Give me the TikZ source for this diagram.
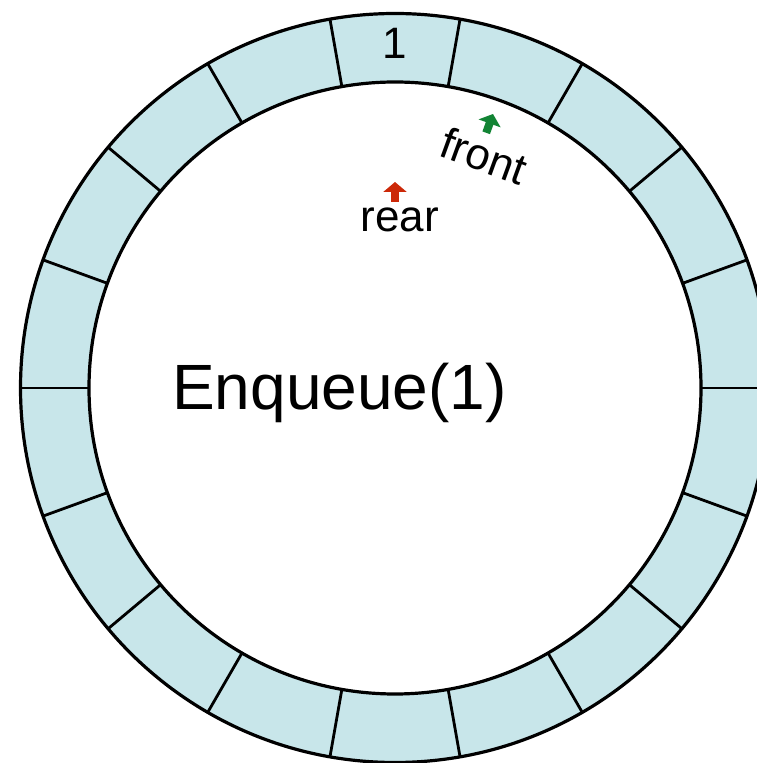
\documentclass[tikz,border=0pt]{standalone}
\usepackage{fontspec}
\setmainfont{Liberation Sans}
\usetikzlibrary{arrows.meta,calc}
\definecolor{slotfill}{RGB}{200,230,234}
\definecolor{rearred}{RGB}{204,40,8}
\definecolor{frontgreen}{RGB}{18,132,52}
\tikzset{
  ringline/.style={draw=black, line width=3.2pt},
  divider/.style={draw=black, line width=2.8pt},
  label/.style={inner sep=0pt, font=\fontsize{44}{48}\selectfont},
  marker/.style={line width=8pt, -{Triangle[width=23pt,length=10pt]}},
}
\begin{document}
\begin{tikzpicture}[x=1pt,y=1pt]
  \useasboundingbox (0,0) rectangle (756,763);
  \coordinate (c) at (395,375);
  % ring of 18 slots, 20 degrees each, slot 1 centred on top
  \fill[slotfill] (c) circle (374.5);
  \fill[white] (c) circle (306);
  \foreach \a in {0,20,...,340}
    \draw[divider] ($(c)+(\a:306)$) -- ($(c)+(\a:374.5)$);
  \draw[ringline] (c) circle (374.5);
  \draw[ringline] (c) circle (306);
  % slot contents
  \node[label, anchor=base] (slot1) at (395,704) {1};
  % title
  \node[inner sep=0pt, anchor=base west, font=\fontsize{64}{70}\selectfont] (title) at (172,353) {Enqueue(1)};
  % rear pointer
  \node[label, anchor=base] (rear) at (400,531) {rear};
  \coordinate (reartail) at (395,561);
  \coordinate (reartip) at (395,581);
  \draw[marker, draw=rearred, fill=rearred] (reartail) -- (reartip);
  % front pointer
  \node[label, rotate=-20] (front) at (484,607) {front};
  \coordinate (fronttail) at (486.2,630.2);
  \coordinate (fronttip) at (493,649);
  \draw[marker, draw=frontgreen, fill=frontgreen] (fronttail) -- (fronttip);
\end{tikzpicture}
\end{document}
